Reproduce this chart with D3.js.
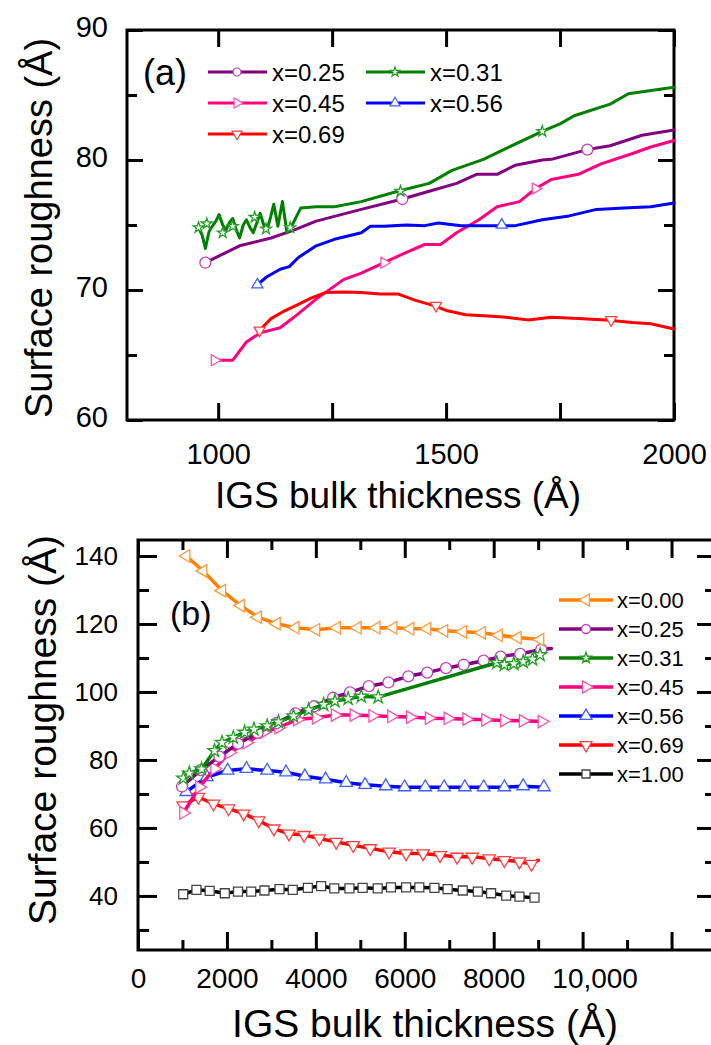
<!DOCTYPE html>
<html><head><meta charset="utf-8">
<script src="https://cdn.jsdelivr.net/npm/d3@7"></script>
<style>
body{margin:0;background:#fff}
svg{display:block}
text{font-family:"Liberation Sans",Arial,Helvetica,sans-serif;fill:#000}
</style>
</head><body>
<svg id="chart" width="711" height="1045"></svg>
<script>
// ---------------- Panel (a) data ----------------
const aLabels = ["x=0.25","x=0.31","x=0.45","x=0.56","x=0.69"];
const a025 = [[972,72.1],[1047,73.4],[1116,74.0],[1166,74.6],[1215,75.3],[1314,76.2],[1404,77.0],[1463,77.6],[1523,78.2],[1567,78.9],[1612,78.9],[1652,79.6],[1711,80.0],[1731,80.05],[1810,80.8],[1860,81.1],[1930,81.9],[2000,82.3]];
const a025Marks = [[972,72.1],[1404,77.0],[1810,80.8]];
const a031 = [[957,74.8],[965,74.2],[972,73.2],[980,74.5],[987,74.9],[995,75.3],[1002,75.8],[1010,75.0],[1017,74.6],[1025,75.2],[1032,75.5],[1040,74.6],[1047,74.0],[1055,75.0],[1062,75.4],[1070,74.8],[1077,74.4],[1085,75.2],[1092,75.9],[1100,75.0],[1107,74.6],[1115,75.6],[1122,76.6],[1131,74.9],[1141,76.8],[1151,74.4],[1161,74.9],[1181,76.3],[1215,76.4],[1255,76.4],[1314,76.8],[1394,77.6],[1463,78.2],[1513,79.2],[1582,80.05],[1632,80.9],[1711,82.2],[1751,82.8],[1781,83.4],[1860,84.3],[1900,85.1],[2000,85.6]];
const a031Marks = [[957,74.8],[975,75.1],[1010,74.4],[1032,74.9],[1080,75.6],[1105,74.7],[1158,74.8],[1400,77.6],[1711,82.2]];
const a045 = [[992,64.6],[1032,64.6],[1062,66.0],[1092,66.7],[1136,67.1],[1166,67.9],[1215,69.3],[1275,70.8],[1314,71.3],[1364,72.1],[1413,72.9],[1453,73.5],[1488,73.5],[1523,74.4],[1572,75.4],[1612,76.4],[1661,76.8],[1696,77.8],[1731,78.5],[1790,78.9],[1840,79.7],[1909,80.5],[1949,81.0],[2000,81.5]];
const a045Marks = [[992,64.6],[1364,72.1],[1696,77.8]];
const a056 = [[1086,70.4],[1106,71.0],[1136,71.6],[1156,71.8],[1176,72.5],[1215,73.4],[1255,73.9],[1314,74.4],[1334,74.9],[1364,74.9],[1413,75.0],[1453,74.95],[1483,75.15],[1533,74.95],[1612,74.95],[1652,74.95],[1711,75.4],[1770,75.7],[1830,76.2],[1890,76.3],[1949,76.4],[2000,76.7]];
const a056Marks = [[1086,70.4],[1622,75.0]];
const a069 = [[1091,66.9],[1116,67.8],[1146,68.4],[1176,68.9],[1205,69.4],[1235,69.8],[1275,69.85],[1314,69.8],[1354,69.7],[1394,69.7],[1433,69.2],[1473,68.8],[1503,68.4],[1543,68.1],[1592,68.0],[1632,67.9],[1681,67.7],[1731,67.9],[1790,67.8],[1850,67.7],[1909,67.5],[1949,67.4],[2000,67.0]];
const a069Marks = [[1091,66.9],[1478,68.8],[1862,67.7]];
const aXTicks = [1000,1250,1500,1750,2000];
const aXLabels = ["1000","","1500","","2000"];
const aYMajor = [60,70,80,90];
const aYMinor = [65,75,85];

// ---------------- Panel (b) data ----------------
const bLabels = ["x=0.00","x=0.25","x=0.31","x=0.45","x=0.56","x=0.69","x=1.00"];
const b000 = [[1085,140.0],[1466,135.6],[1889,129.8],[2312,125.4],[2693,122.0],[3117,120.1],[3540,118.9],[4006,118.3],[4472,118.9],[4937,118.9],[5361,118.9],[5742,118.9],[6123,118.6],[6504,118.6],[6885,118.0],[7308,117.7],[7731,117.4],[8113,116.7],[8536,116.0],[9044,115.4]];
const b025 = [[990,72.2],[1410,77.0],[1830,81.0],[2250,84.8],[2690,88.0],[3110,90.8],[3540,93.7],[3964,95.8],[4387,98.3],[4768,99.9],[5191,101.7],[5632,102.8],[6080,104.6],[6504,105.7],[6927,107.0],[7325,108.0],[7774,109.2],[8155,110.4],[8595,111.2],[9070,112.5]];
const b025Tail = [9298,112.8];
const b031 = [[1020,74.6],[1153,76.1],[1429,77.3],[1720,82.7],[1889,85.1],[2143,86.6],[2397,88.1],[2609,89.0],[2905,90.0],[3159,91.2],[3498,92.9],[3837,94.7],[4175,96.3],[4429,97.3],[4726,98.0],[5022,98.7],[5403,98.5],[8070,108.6],[8240,108.0],[8451,108.3],[8663,108.9],[8875,109.6],[9044,110.9]];
const b045 = [[1020,64.4],[1380,72.0],[1720,77.4],[2058,82.2],[2439,85.1],[2820,88.1],[3159,89.5],[3583,91.9],[4006,92.4],[4429,93.2],[4852,93.2],[5275,93.0],[5698,92.8],[6121,92.6],[6544,92.3],[6967,92.2],[7390,92.0],[7813,91.8],[8236,91.6],[8659,91.5],[9082,91.3]];
const b056 = [[1085,70.6],[1550,75.0],[2016,76.9],[2439,77.4],[2905,76.9],[3328,76.4],[3752,75.2],[4218,74.3],[4683,73.3],[5107,72.7],[5572,72.3],[5996,72.0],[6461,72.0],[6885,72.0],[7351,72.0],[7774,72.0],[8240,72.0],[8663,72.3],[9129,72.0]];
const b069 = [[1017,66.6],[1357,69.1],[1697,67.1],[2037,65.7],[2376,64.2],[2716,62.2],[3056,59.8],[3396,58.3],[3736,57.9],[4076,56.9],[4458,55.9],[4840,54.9],[5223,54.0],[5647,53.0],[6030,52.5],[6412,52.5],[6794,52.0],[7177,51.5],[7517,51.5],[7899,51.0],[8239,50.5],[8579,50.1],[8850,49.4]];
const b069Tail = [9003,50.5];
const b100 = [[1017,40.5],[1314,41.8],[1612,41.5],[1952,40.8],[2249,41.3],[2546,41.3],[2844,41.6],[3183,42.0],[3481,41.8],[3821,42.4],[4118,42.9],[4415,42.2],[4755,42.2],[5053,42.4],[5392,42.2],[5690,42.5],[6030,42.5],[6327,42.5],[6667,42.4],[6964,42.0],[7304,41.6],[7644,41.3],[7941,40.8],[8281,40.1],[8579,39.8],[8918,39.5]];
const bXTicks = [0,2000,4000,6000,8000,10000,12000];
const bXMinor = [1000,3000,5000,7000,9000,11000];
const bXLabels = ["0","2000","4000","6000","8000","10,000",""];
const bYMajor = [40,60,80,100,120,140];
const bYMinor = [30,50,70,90,110,130];

// ---------------- styles ----------------
const lineColors = {"x=0.00":"#ff8000","x=0.25":"#800080","x=0.31":"#008000","x=0.45":"#ff0080","x=0.56":"#0000ff","x=0.69":"#ff0000","x=1.00":"#000000"};
const markColors = {"x=0.00":"#ff9a3c","x=0.25":"#c040c0","x=0.31":"#22a022","x=0.45":"#ff50a8","x=0.56":"#4060ff","x=0.69":"#ff4040","x=1.00":"#444444"};
const markShape = {"x=0.00":"left","x=0.25":"circle","x=0.31":"star","x=0.45":"right","x=0.56":"up","x=0.69":"down","x=1.00":"square"};

const svg = d3.select("#chart");
const FONT = '"Liberation Sans",Arial,sans-serif';

function symbolPath(shape, s){
  if(shape==="circle") return {d:d3.symbol(d3.symbolCircle, Math.PI*(s/2)*(s/2))(), rot:0};
  if(shape==="square") return {d:d3.symbol(d3.symbolSquare, s*s)(), rot:0};
  if(shape==="star") return {d:d3.symbol(d3.symbolStar, s*s*0.45)(), rot:0};
  const tri = d3.symbol(d3.symbolTriangle, Math.sqrt(3)/4*s*s)();
  const rot = {up:0,right:90,down:180,left:-90}[shape];
  return {d:tri, rot:rot};
}
function drawMarks(g, pts, x, y, label, s){
  const sp = symbolPath(markShape[label], s);
  g.selectAll(null).data(pts).enter().append("path")
    .attr("d", sp.d)
    .attr("transform", d=>`translate(${x(d[0])},${y(d[1])}) rotate(${sp.rot})`)
    .attr("fill","#fff").attr("stroke", markColors[label]).attr("stroke-width",1.3);
}
function drawLine(g, pts, x, y, label, w){
  g.append("path").datum(pts)
    .attr("d", d3.line().x(d=>x(d[0])).y(d=>y(d[1])))
    .attr("fill","none").attr("stroke", lineColors[label])
    .attr("stroke-width", w).attr("stroke-linejoin","round").attr("stroke-linecap","round");
}
function styleAxis(sel, fs){
  sel.select(".domain").remove();
  sel.selectAll(".tick line").attr("stroke","#000").attr("stroke-width",3);
  sel.selectAll(".tick text").attr("font-size",fs).attr("font-family",FONT).attr("fill","#000");
}

// ================= Panel (a) =================
const xA = d3.scaleLinear([800,2000],[127,674]);
const yA = d3.scaleLinear([60,90],[420,30]);
const gA = svg.append("g");

gA.append("g").attr("transform",`translate(0,${yA(60)})`)
  .call(d3.axisBottom(xA).tickValues(aXTicks).tickSize(-17).tickPadding(23).tickFormat((d,i)=>aXLabels[i]))
  .call(s=>styleAxis(s,29));
gA.append("g").attr("transform",`translate(0,${yA(90)})`)
  .call(d3.axisTop(xA).tickValues(aXTicks).tickSize(-17).tickFormat(""))
  .call(s=>styleAxis(s,29));
gA.append("g").attr("transform",`translate(${xA(800)},0)`)
  .call(d3.axisLeft(yA).tickValues(aYMajor).tickSize(-16).tickPadding(19).tickFormat(d3.format("d")))
  .call(s=>styleAxis(s,29))
  .call(s=>s.selectAll(".tick text").attr("dy","0.22em"));
gA.append("g").attr("transform",`translate(${xA(800)},0)`)
  .call(d3.axisLeft(yA).tickValues(aYMinor).tickSize(-10).tickFormat(""))
  .call(s=>styleAxis(s,29));
gA.append("g").attr("transform",`translate(${xA(2000)},0)`)
  .call(d3.axisRight(yA).tickValues(aYMajor).tickSize(-16).tickFormat(""))
  .call(s=>styleAxis(s,29));
gA.append("g").attr("transform",`translate(${xA(2000)},0)`)
  .call(d3.axisRight(yA).tickValues(aYMinor).tickSize(-10).tickFormat(""))
  .call(s=>styleAxis(s,29));
gA.append("rect").attr("x",xA(800)).attr("y",yA(90)).attr("width",xA(2000)-xA(800)).attr("height",yA(60)-yA(90))
  .attr("fill","none").attr("stroke","#000").attr("stroke-width",3);

const aSeries = [[a025,a025Marks],[a031,a031Marks],[a045,a045Marks],[a056,a056Marks],[a069,a069Marks]];
const aDrawOrder = [2,3,4,0,1];
aDrawOrder.forEach(i=>drawLine(gA, aSeries[i][0], xA, yA, aLabels[i], 3));
aDrawOrder.forEach(i=>drawMarks(gA, aSeries[i][1], xA, yA, aLabels[i], aLabels[i]==="x=0.31"?9:11));

gA.append("text").attr("x",143).attr("y",85).attr("font-size",36).text("(a)");
const aLegPos = [[208,72],[366,72],[208,103],[366,103],[208,134]];
aLabels.forEach((lab,i)=>{
  const [lx,ly] = aLegPos[i];
  const lg = gA.append("g");
  lg.append("line").attr("x1",lx).attr("x2",lx+59).attr("y1",ly).attr("y2",ly)
    .attr("stroke",lineColors[lab]).attr("stroke-width",3);
  const sp = symbolPath(markShape[lab], (lab==="x=0.25"||lab==="x=0.31")?8:10);
  lg.append("path").attr("d",sp.d).attr("transform",`translate(${lx+29},${ly}) rotate(${sp.rot})`)
    .attr("fill","#fff").attr("stroke",markColors[lab]).attr("stroke-width",1.2);
  lg.append("text").attr("x",lx+64).attr("y",ly+8.5).attr("font-size",24).text(lab);
});

gA.append("text").attr("x",398).attr("y",508).attr("text-anchor","middle").attr("font-size",37)
  .text("IGS bulk thickness (Å)");
gA.append("text").attr("transform","translate(52,228) rotate(-90)").attr("text-anchor","middle").attr("font-size",38)
  .text("Surface roughness (Å)");

// ================= Panel (b) =================
const xB = d3.scaleLinear([0,13000],[138,716]);
const yB = d3.scaleLinear([24.1,144.7],[950,540]);
const gB = svg.append("g");

gB.append("g").attr("transform",`translate(0,${yB(24.1)})`)
  .call(d3.axisBottom(xB).tickValues(bXTicks).tickSize(-18).tickPadding(18).tickFormat((d,i)=>bXLabels[i]))
  .call(s=>styleAxis(s,28))
  .call(s=>s.selectAll(".tick text").attr("dx",d=>d===10000?12:0));
gB.append("g").attr("transform",`translate(0,${yB(24.1)})`)
  .call(d3.axisBottom(xB).tickValues(bXMinor).tickSize(-10).tickFormat(""))
  .call(s=>styleAxis(s,28));
gB.append("g").attr("transform",`translate(0,${yB(144.7)})`)
  .call(d3.axisTop(xB).tickValues(bXTicks).tickSize(-18).tickFormat(""))
  .call(s=>styleAxis(s,28));
gB.append("g").attr("transform",`translate(0,${yB(144.7)})`)
  .call(d3.axisTop(xB).tickValues(bXMinor).tickSize(-10).tickFormat(""))
  .call(s=>styleAxis(s,28));
gB.append("g").attr("transform",`translate(${xB(0)},0)`)
  .call(d3.axisLeft(yB).tickValues(bYMajor).tickSize(-19).tickPadding(20).tickFormat(d3.format("d")))
  .call(s=>styleAxis(s,26));
gB.append("g").attr("transform",`translate(${xB(0)},0)`)
  .call(d3.axisLeft(yB).tickValues(bYMinor).tickSize(-11).tickFormat(""))
  .call(s=>styleAxis(s,26));
gB.append("g").attr("transform",`translate(${xB(13000)},0)`)
  .call(d3.axisRight(yB).tickValues(bYMajor).tickSize(-19).tickFormat(""))
  .call(s=>styleAxis(s,26));
gB.append("g").attr("transform",`translate(${xB(13000)},0)`)
  .call(d3.axisRight(yB).tickValues(bYMinor).tickSize(-11).tickFormat(""))
  .call(s=>styleAxis(s,26));
gB.append("rect").attr("x",xB(0)).attr("y",yB(144.7)).attr("width",xB(13000)-xB(0)).attr("height",yB(24.1)-yB(144.7))
  .attr("fill","none").attr("stroke","#000").attr("stroke-width",3);

const bSeries = [b000, b025.concat([b025Tail]), b031, b045, b056, b069.concat([b069Tail]), b100];
const bMarks = [b000, b025, b031, b045, b056, b069, b100];
const bDrawOrder = [6,5,4,3,1,2,0];
const bSize = {"x=0.00":12.5,"x=0.25":11,"x=0.31":11,"x=0.45":12.5,"x=0.56":12.5,"x=0.69":12.5,"x=1.00":9};
bDrawOrder.forEach(i=>{
  drawLine(gB, bSeries[i], xB, yB, bLabels[i], 3.5);
  drawMarks(gB, bMarks[i], xB, yB, bLabels[i], bSize[bLabels[i]]);
});

gB.append("text").attr("x",170).attr("y",625).attr("font-size",34).text("(b)");
bLabels.forEach((lab,i)=>{
  const ly = 600 + 29*i, lx = 559;
  const lg = gB.append("g");
  lg.append("line").attr("x1",lx).attr("x2",lx+54).attr("y1",ly).attr("y2",ly)
    .attr("stroke",lineColors[lab]).attr("stroke-width",3.5);
  const s = (lab==="x=0.25"||lab==="x=0.31")?9:(lab==="x=1.00"?8:12);
  const sp = symbolPath(markShape[lab], s);
  lg.append("path").attr("d",sp.d).attr("transform",`translate(${lx+27},${ly}) rotate(${sp.rot})`)
    .attr("fill","#fff").attr("stroke",markColors[lab]).attr("stroke-width",1.3);
  lg.append("text").attr("x",lx+58).attr("y",ly+8).attr("font-size",22).text(lab);
});

gB.append("text").attr("x",425).attr("y",1037).attr("text-anchor","middle").attr("font-size",39)
  .text("IGS bulk thickness (Å)");
gB.append("text").attr("transform","translate(56,730) rotate(-90)").attr("text-anchor","middle").attr("font-size",39)
  .text("Surface roughness (Å)");
</script>
</body></html>
